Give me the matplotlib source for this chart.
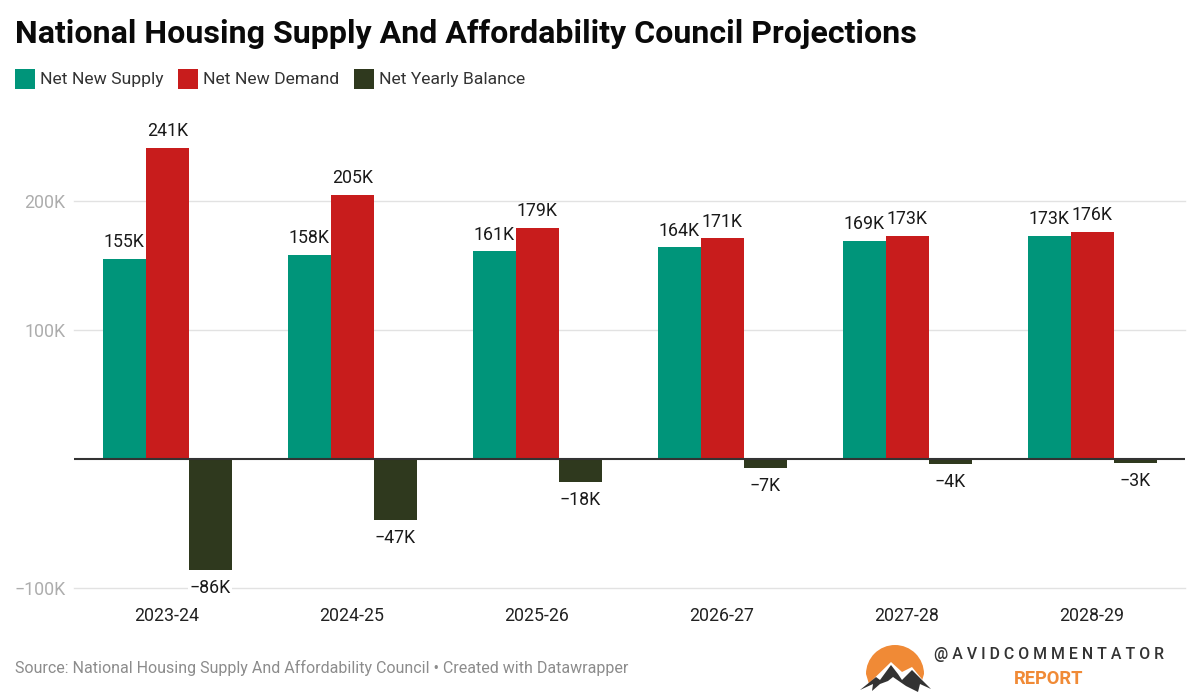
import numpy as np
import matplotlib
matplotlib.use("Agg")
import matplotlib.pyplot as plt
from matplotlib.patches import Polygon, Rectangle, Wedge

seasons = ["2023-24", "2024-25", "2025-26", "2026-27", "2027-28", "2028-29"]
supply = [155, 158, 161, 164, 169, 173]
demand = [241, 205, 179, 171, 173, 176]
balance = [-86, -47, -18, -7, -4, -3]
series_names = ["Net New Supply", "Net New Demand", "Net Yearly Balance"]
y_ticks = [-100, 100, 200]

GREEN = "#00957a"
RED = "#c81c1c"
DARK = "#2f391e"
ORANGE = "#f08a36"
W, H = 1200, 694


def fmt_k(v):
    return f"\u2212{abs(v)}K" if v < 0 else f"{v}K"


plt.rcParams["font.family"] = ["Roboto", "DejaVu Sans"]
fig = plt.figure(figsize=(W / 100, H / 100), dpi=100, facecolor="white")

# overlay in pixel coordinates for title, legend, footer and logo
over = fig.add_axes([0, 0, 1, 1], zorder=3)
over.set_xlim(0, W)
over.set_ylim(H, 0)
over.axis("off")

ax = fig.add_axes([74 / W, (H - 588) / H, 1111 / W, 478 / H], zorder=2)
ax.patch.set_alpha(0)
ax.set_xlim(-0.505, 5.5)
ax.set_ylim(-100, 270.5)
for s in ax.spines.values():
    s.set_visible(False)

x = np.arange(len(seasons))
bw = 43 / 185
colors = [GREEN, RED, DARK]
for i, vals in enumerate([supply, demand, balance]):
    pos = x + (i - 1) * bw
    ax.bar(pos, vals, bw, color=colors[i], zorder=2)
    for p, v in zip(pos, vals):
        off = 12 if v > 0 else -13
        box = dict(fc="white", ec="none", pad=1) if v < 0 else None
        ax.annotate(fmt_k(v), (p, v), xytext=(0, off), textcoords="offset points",
                    ha="center", va="center", fontsize=12.8, color="#1a1a1a", bbox=box, zorder=4)

for t in y_ticks:
    ax.axhline(t, color="#e2e2e2", lw=1.0, zorder=1, clip_on=False)
ax.axhline(0, color="#333333", lw=1.5, zorder=3)

ax.set_yticks(y_ticks, [fmt_k(t) for t in y_ticks])
ax.set_xticks(x - 0.004, seasons)
ax.tick_params(axis="y", length=0, pad=6, labelsize=12.8, labelcolor="#adadad")
ax.tick_params(axis="x", length=0, pad=13.5, labelsize=12.8, labelcolor="#222222")

over.text(15, 34, "National Housing Supply And Affordability Council Projections",
          fontsize=23.1, fontweight="bold", color="#0a0a0a", ha="left", va="center")

leg_x = [15, 178, 354]
for lx, name, c in zip(leg_x, series_names, colors):
    over.add_patch(Rectangle((lx, 69), 20, 20, color=c, lw=0))
    over.text(lx + 25, 79.5, name, fontsize=12.6, color="#333333", ha="left", va="center")

over.text(15, 668, "Source: National Housing Supply And Affordability Council \u2022 Created with Datawrapper",
          fontsize=11.5, color="#8c8c8c", ha="left", va="center")

# logo: sun, white backing along the ridge, dark mountains
over.add_patch(Wedge((895, 674), 29, 180, 360, color=ORANGE, lw=0))
over.add_patch(Polygon([(866, 674), (924, 674), (921, 684), (869, 684)], color=ORANGE, lw=0))
over.add_patch(Polygon([(858, 694), (891, 662), (902, 672), (912, 667), (934, 694)],
                       color="white", lw=0))
over.add_patch(Polygon([(860, 690), (876, 677), (880, 680), (891, 665), (898, 674), (902, 680),
                        (912, 670), (931, 689), (920, 684), (918, 692), (906, 686), (893, 677),
                        (888, 681), (880, 684), (872, 691), (873, 684)],
                       color="#333333", lw=0))
over.text(934, 654.5, "@ A V I D C O M M E N T A T O R", fontsize=11.45, fontweight="medium",
          color="#333333", ha="left", va="center")
over.text(1014, 679, "REPORT", fontsize=13.2, fontweight="bold", color=ORANGE,
          ha="left", va="center")

fig.savefig("out.png", dpi=100)
